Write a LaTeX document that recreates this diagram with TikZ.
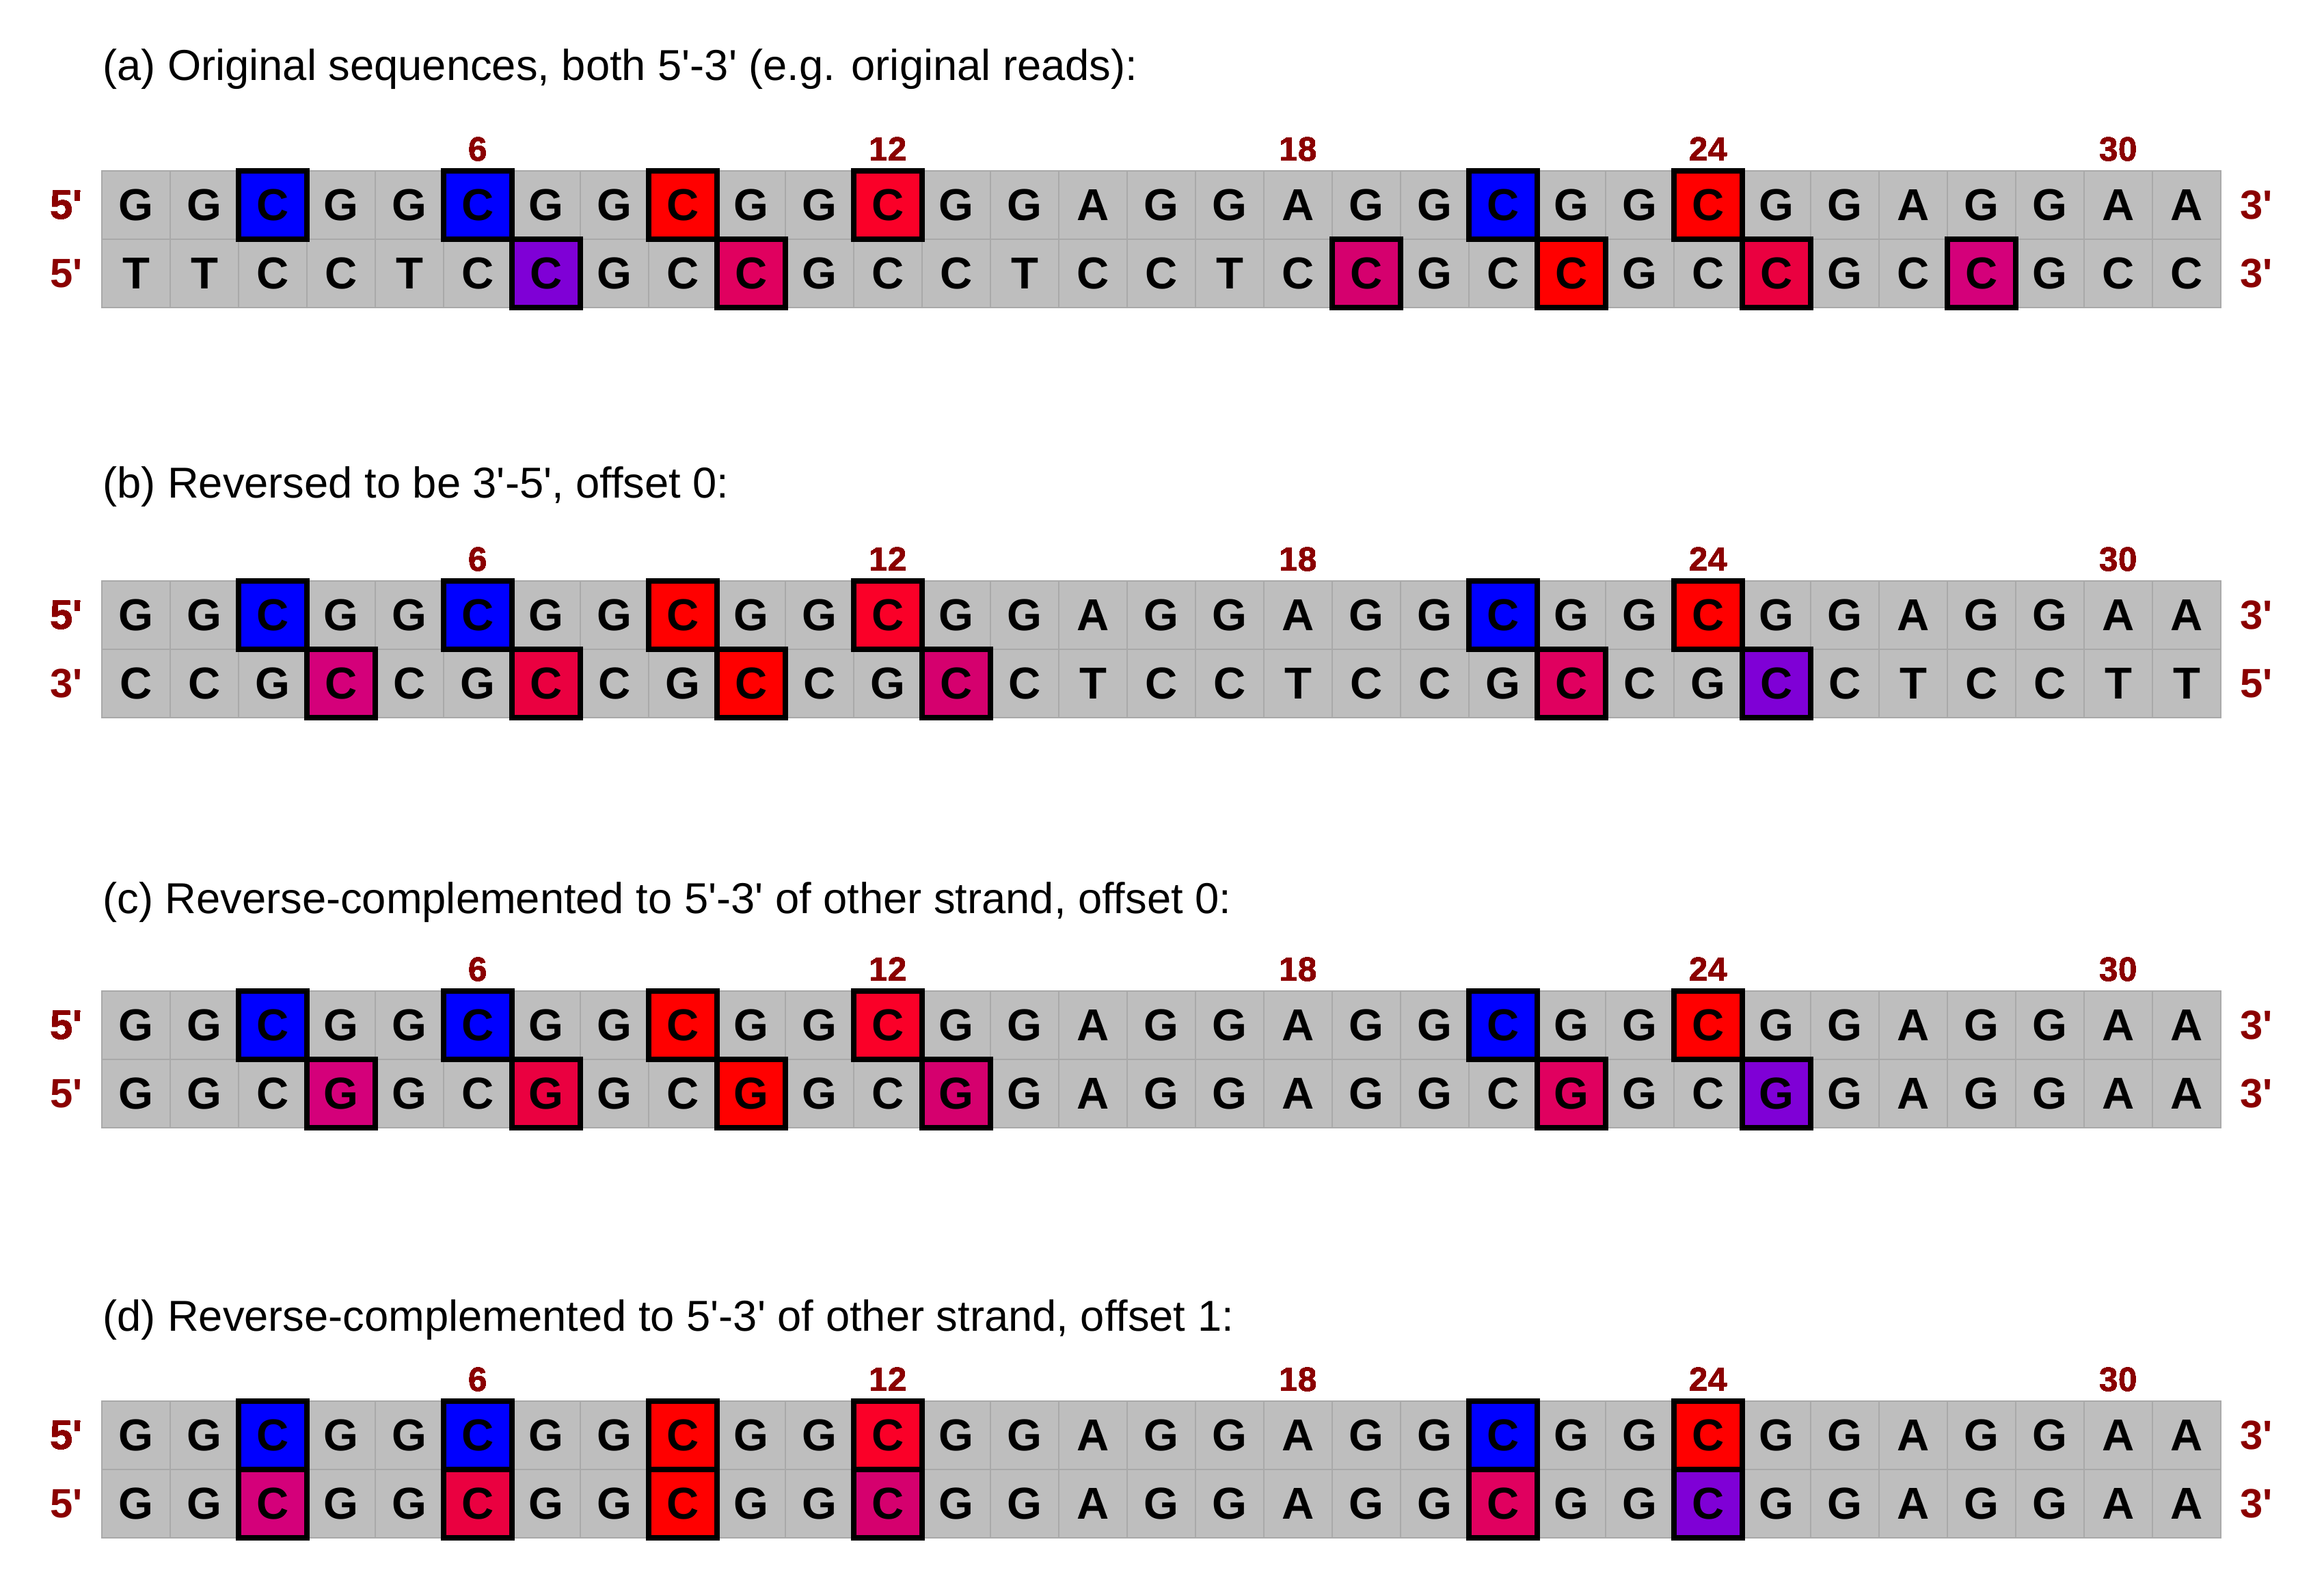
\documentclass[tikz,border=0pt]{standalone}
\usepackage{fontspec}
\newfontfamily\lsans{Liberation Sans}
\usetikzlibrary{positioning}
\definecolor{cellbg}{HTML}{BEBEBE}
\definecolor{cellbd}{HTML}{A9A9A9}
\definecolor{posred}{HTML}{8B0000}
\definecolor{mblue}{HTML}{0000FF}
\definecolor{mred}{HTML}{FF0000}
\definecolor{mscarlet}{HTML}{FA0028}
\definecolor{mcrimson}{HTML}{EA0040}
\definecolor{mpink}{HTML}{E0005F}
\definecolor{mmagb}{HTML}{D5006E}
\definecolor{mmaga}{HTML}{D4007A}
\definecolor{mpurple}{HTML}{7F00D6}
\tikzset{
  base/.style={rectangle, draw=cellbd, line width=0.35pt, fill=cellbg,
               minimum width=5mm, minimum height=5mm, inner sep=0pt, outer sep=0pt,
               font=\lsans\fontsize{9.3}{9.3}\selectfont\bfseries},
  hit/.style={base, fill=#1, draw=black, line width=1.13pt},
  posnum/.style={font=\lsans\fontsize{7}{7}\selectfont\bfseries, text=posred,
                 inner sep=0pt, outer sep=0pt},
  strandend/.style={posnum, font=\lsans\fontsize{8.5}{8.5}\selectfont\bfseries},
  caption/.style={anchor=base west, inner sep=0pt,
                  font=\lsans\fontsize{9}{9}\selectfont},
}
\newcommand{\strand}[3]{% name, y, bases
  \foreach \b [count=\i] in {#3}
    \node[base] (#1-\i) at (0.99+\i,#2) {\b};}
\newcommand{\hilite}[3]{% cell, colour, base
  \node[hit=#2] (#1-hit) at (#1) {#3};}
\newcommand{\ticks}[1]{% top strand
  \foreach \n in {6,12,18,24,30}
    \node[posnum, above=0.7mm of #1-\n] (#1-n\n) {\n};}

\begin{document}
\begin{tikzpicture}[x=0.5cm, y=-0.5cm]
  \useasboundingbox (0,0) rectangle (34,23);

  % (a) both strands as read
  \node[caption] (ta) at (1.49,1.18)
    {(a) Original sequences, both 5'-3' (e.g. original reads):};
  \strand{a1}{3}{G,G,C,G,G,C,G,G,C,G,G,C,G,G,A,G,G,A,G,G,C,G,G,C,G,G,A,G,G,A,A}
  \strand{a2}{4}{T,T,C,C,T,C,C,G,C,C,G,C,C,T,C,C,T,C,C,G,C,C,G,C,C,G,C,C,G,C,C}
  \foreach \c/\col in {3/mblue,6/mblue,9/mred,12/mscarlet,21/mblue,24/mred}
    \hilite{a1-\c}{\col}{C}
  \foreach \c/\col in {7/mpurple,10/mpink,19/mmagb,22/mred,25/mcrimson,28/mmaga}
    \hilite{a2-\c}{\col}{C}
  \ticks{a1}
  \node[strandend, left=1.4mm of a1-1] (a1-l) {5'};
  \node[strandend, left=1.4mm of a2-1] (a2-l) {5'};
  \node[strandend, right=1.4mm of a1-31] (a1-r) {3'};
  \node[strandend, right=1.4mm of a2-31] (a2-r) {3'};

  % (b) second strand reversed
  \node[caption] (tb) at (1.49,7.29)
    {(b) Reversed to be 3'-5', offset 0:};
  \strand{b1}{9}{G,G,C,G,G,C,G,G,C,G,G,C,G,G,A,G,G,A,G,G,C,G,G,C,G,G,A,G,G,A,A}
  \strand{b2}{10}{C,C,G,C,C,G,C,C,G,C,C,G,C,C,T,C,C,T,C,C,G,C,C,G,C,C,T,C,C,T,T}
  \foreach \c/\col in {3/mblue,6/mblue,9/mred,12/mscarlet,21/mblue,24/mred}
    \hilite{b1-\c}{\col}{C}
  \foreach \c/\col in {4/mmaga,7/mcrimson,10/mred,13/mmagb,22/mpink,25/mpurple}
    \hilite{b2-\c}{\col}{C}
  \ticks{b1}
  \node[strandend, left=1.4mm of b1-1] (b1-l) {5'};
  \node[strandend, left=1.4mm of b2-1] (b2-l) {3'};
  \node[strandend, right=1.4mm of b1-31] (b1-r) {3'};
  \node[strandend, right=1.4mm of b2-31] (b2-r) {5'};

  % (c) reverse complement, no shift
  \node[caption] (tc) at (1.49,13.37)
    {(c) Reverse-complemented to 5'-3' of other strand, offset 0:};
  \strand{c1}{15}{G,G,C,G,G,C,G,G,C,G,G,C,G,G,A,G,G,A,G,G,C,G,G,C,G,G,A,G,G,A,A}
  \strand{c2}{16}{G,G,C,G,G,C,G,G,C,G,G,C,G,G,A,G,G,A,G,G,C,G,G,C,G,G,A,G,G,A,A}
  \foreach \c/\col in {3/mblue,6/mblue,9/mred,12/mscarlet,21/mblue,24/mred}
    \hilite{c1-\c}{\col}{C}
  \foreach \c/\col in {4/mmaga,7/mcrimson,10/mred,13/mmagb,22/mpink,25/mpurple}
    \hilite{c2-\c}{\col}{G}
  \ticks{c1}
  \node[strandend, left=1.4mm of c1-1] (c1-l) {5'};
  \node[strandend, left=1.4mm of c2-1] (c2-l) {5'};
  \node[strandend, right=1.4mm of c1-31] (c1-r) {3'};
  \node[strandend, right=1.4mm of c2-31] (c2-r) {3'};

  % (d) reverse complement, shifted by one
  \node[caption] (td) at (1.49,19.48)
    {(d) Reverse-complemented to 5'-3' of other strand, offset 1:};
  \strand{d1}{21}{G,G,C,G,G,C,G,G,C,G,G,C,G,G,A,G,G,A,G,G,C,G,G,C,G,G,A,G,G,A,A}
  \strand{d2}{22}{G,G,C,G,G,C,G,G,C,G,G,C,G,G,A,G,G,A,G,G,C,G,G,C,G,G,A,G,G,A,A}
  \foreach \c/\col in {3/mblue,6/mblue,9/mred,12/mscarlet,21/mblue,24/mred}
    \hilite{d1-\c}{\col}{C}
  \foreach \c/\col in {3/mmaga,6/mcrimson,9/mred,12/mmagb,21/mpink,24/mpurple}
    \hilite{d2-\c}{\col}{C}
  \ticks{d1}
  \node[strandend, left=1.4mm of d1-1] (d1-l) {5'};
  \node[strandend, left=1.4mm of d2-1] (d2-l) {5'};
  \node[strandend, right=1.4mm of d1-31] (d1-r) {3'};
  \node[strandend, right=1.4mm of d2-31] (d2-r) {3'};
\end{tikzpicture}
\end{document}
